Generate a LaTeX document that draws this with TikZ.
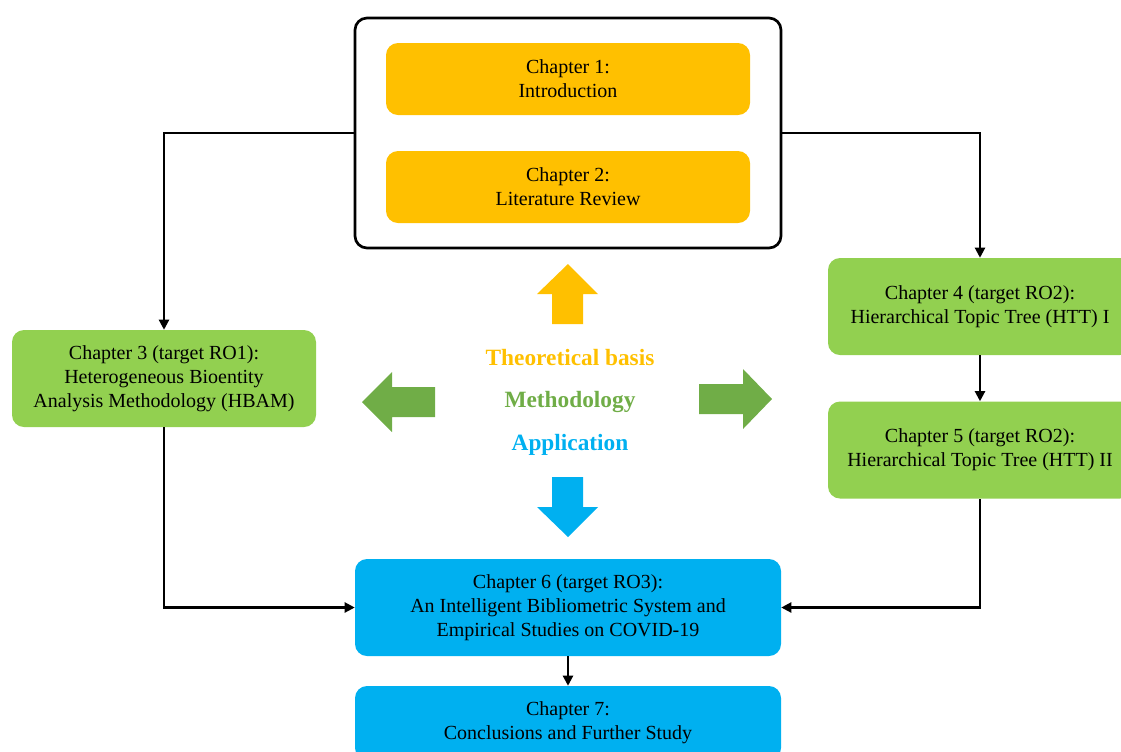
\documentclass[tikz,border=0pt]{standalone}
\usepackage{fontspec}
\setmainfont{Liberation Serif}
\usetikzlibrary{arrows.meta}
\definecolor{cOrange}{HTML}{FFC000}
\definecolor{cGreen}{HTML}{92D050}
\definecolor{cDGreen}{HTML}{70AD47}
\definecolor{cBlue}{HTML}{00B0F0}
\begin{document}
\begin{tikzpicture}[x=0.75pt,y=-0.75pt,
  chap/.style={rounded corners=9pt, inner sep=0pt, align=center,
    font=\fontsize{15}{18}\selectfont, text=black},
  orangebox/.style={chap, fill=cOrange, minimum width=273pt, minimum height=54pt},
  greenbox/.style={chap, fill=cGreen, minimum width=228pt, minimum height=72.75pt},
  bluebox/.style={chap, fill=cBlue, minimum width=319.5pt},
  link/.style={line width=1.6pt, -{Triangle[length=7.5pt,width=7.5pt]}},
  label/.style={font=\fontsize{17.5}{20}\selectfont\bfseries}]
\useasboundingbox (0,0) rectangle (1121,751);
\clip (0,0) rectangle (1121,751);

% frame around the background chapters
\node[draw=black, line width=2pt, fill=white, rounded corners=9pt,
  minimum width=319.5pt, minimum height=172.5pt] (top) at (568,133) {};
\node[orangebox] (ch1) at (568,79) {Chapter 1:\\Introduction};
\node[orangebox] (ch2) at (568,187) {Chapter 2:\\Literature Review};

% methodology chapters
\node[greenbox] (ch3) at (164,378.5) {Chapter 3 (target RO1):\\Heterogeneous Bioentity\\Analysis Methodology (HBAM)};
\node[greenbox] (ch4) at (980,306.5) {Chapter 4 (target RO2):\\Hierarchical Topic Tree (HTT) I};
\node[greenbox] (ch5) at (980,450) {Chapter 5 (target RO2):\\Hierarchical Topic Tree (HTT) II};

% application chapters
\node[bluebox, minimum height=72.75pt] (ch6) at (568,607.5) {Chapter 6 (target RO3):\\An Intelligent Bibliometric System and\\Empirical Studies on COVID-19};
\node[bluebox, minimum height=55.5pt] (ch7) at (568,723) {Chapter 7:\\Conclusions and Further Study};

% connectors
\draw[link] (top.west) -| (ch3.north);
\draw[link] (top.east) -| (ch4.north);
\draw[link] (ch4.south) -- (ch5.north);
\draw[link] (ch3.south) |- (ch6.west);
\draw[link] (ch5.south) |- (ch6.east);
\draw[link] (ch6.south) -- (ch7.north);

% central legend
\node[label, text=cOrange] (theory) at (570,358) {Theoretical basis};
\node[label, text=cDGreen] (method) at (570,402) {Methodology};
\node[label, text=cBlue] (appl) at (570,445) {Application};

% block arrows
\fill[cOrange] (568,264) -- (598,294) -- (583,294) -- (583,324) -- (552,324) -- (552,294) -- (537,294) -- cycle;
\fill[cBlue] (552,477) -- (583,477) -- (583,507) -- (598,507) -- (568,537) -- (537,507) -- (552,507) -- cycle;
\fill[cDGreen] (362,402) -- (392,372) -- (392,387) -- (435,387) -- (435,417) -- (392,417) -- (392,432) -- cycle;
\fill[cDGreen] (699,384) -- (743,384) -- (743,369) -- (772,399) -- (743,429) -- (743,414) -- (699,414) -- cycle;
\end{tikzpicture}
\end{document}
